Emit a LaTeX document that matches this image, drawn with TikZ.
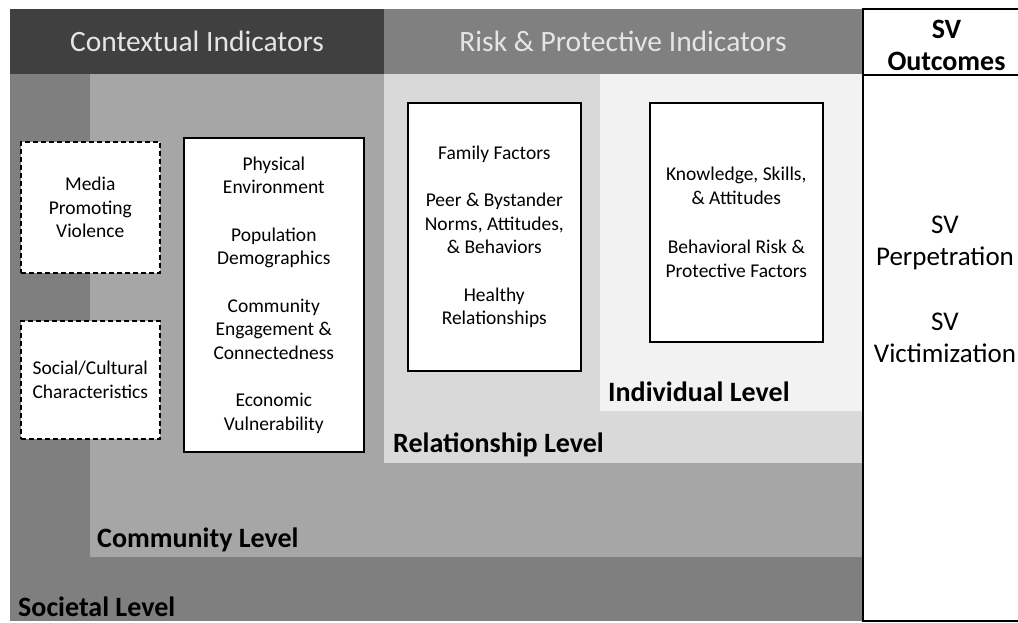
\documentclass[tikz,border=0pt]{standalone}
\usepackage{fontspec}
\setmainfont{Carlito}
\usepackage{tikz}
\usetikzlibrary{positioning}
\definecolor{ctxgray}{HTML}{404040}
\definecolor{riskgray}{HTML}{808080}
\definecolor{socgray}{HTML}{7F7F7F}
\definecolor{comgray}{HTML}{A6A6A6}
\definecolor{relgray}{HTML}{D9D9D9}
\definecolor{indgray}{HTML}{F2F2F2}

\begin{document}
\begin{tikzpicture}[
    x=1pt, y=-1pt,
    region/.style={draw=none, anchor=north west, inner sep=0pt, outer sep=0pt},
    header/.style={region, font=\fontsize{29.5}{32}\selectfont, text=white!90!black},
    factor/.style={draw, line width=1.6pt, fill=white, anchor=north west, inner sep=0pt, align=center, font=\fontsize{19.5}{23.5}\selectfont},
    context/.style={factor, dashed, dash pattern=on 5pt off 3pt},
    lvl/.style={inner sep=0pt, font=\fontsize{28}{30}\selectfont\bfseries},
    outcome/.style={align=center, font=\fontsize{27}{32}\selectfont},
]
\useasboundingbox (0,0) rectangle (1018,623);

% --- Nested levels of the social ecology ---
\node[region, fill=socgray, minimum width=852pt, minimum height=547pt] (societal) at (10,74) {};
\node[region, fill=comgray, minimum width=772pt, minimum height=483pt] (community) at (90,74) {};
\node[region, fill=relgray, minimum width=478pt, minimum height=389pt] (relationship) at (384,74) {};
\node[region, fill=indgray, minimum width=262pt, minimum height=337pt] (individual) at (600,74) {};

% --- Column headers ---
\node[header, fill=ctxgray, minimum width=374pt, minimum height=65pt] (ctxhead) at (10,9) {Contextual Indicators};
\node[header, fill=riskgray, minimum width=478pt, minimum height=65pt] (riskhead) at (384,9) {Risk \& Protective Indicators};

% --- Level labels ---
\node[lvl, above right=10pt and 8pt of individual.south west, anchor=base west] {Individual Level};
\node[lvl, above right=11pt and 9pt of relationship.south west, anchor=base west] {Relationship Level};
\node[lvl, above right=10pt and 7pt of community.south west, anchor=base west] {Community Level};
\node[lvl, above right=5pt and 8pt of societal.south west, anchor=base west] {Societal Level};

% --- Contextual factors (dashed) ---
\node[context, minimum width=139pt, minimum height=131pt] (media) at (20,141) {Media\\Promoting\\Violence};
\node[context, minimum width=139pt, minimum height=118pt] (social) at (20,320) {Social/Cultural\\Characteristics};

% --- Community factors ---
\node[factor, minimum width=180pt, minimum height=314pt] (commbox) at (183,137)
    {Physical\\Environment\\[24pt]Population\\Demographics\\[24pt]Community\\Engagement \&\\Connectedness\\[24pt]Economic\\Vulnerability};

% --- Relationship factors ---
\node[factor, minimum width=173pt, minimum height=268pt] (relbox) at (407,102)
    {Family Factors\\[24pt]Peer \& Bystander\\Norms, Attitudes,\\\& Behaviors\\[24pt]Healthy\\Relationships};

% --- Individual factors ---
\node[factor, minimum width=173pt, minimum height=239pt] (indbox) at (649,102)
    {Knowledge, Skills,\\\& Attitudes\\[26pt]Behavioral Risk \&\\Protective Factors};

% --- SV outcomes column (runs off the right edge) ---
\node[region, draw, line width=1.6pt, minimum width=167pt, minimum height=612pt] (outcomes) at (863,9) {};
\node[region, minimum width=167pt, minimum height=66pt] (outhead) at (863,9) {};
\draw[line width=1.6pt] (outhead.south west) -- (outhead.south east);
\node[align=center, font=\fontsize{28}{32}\selectfont\bfseries, yshift=-3pt] at (outhead.center) {SV\\Outcomes};
\node[outcome] (svlist) at (945,289) {SV\\Perpetration\\[33pt]SV\\Victimization};

\end{tikzpicture}
\end{document}
